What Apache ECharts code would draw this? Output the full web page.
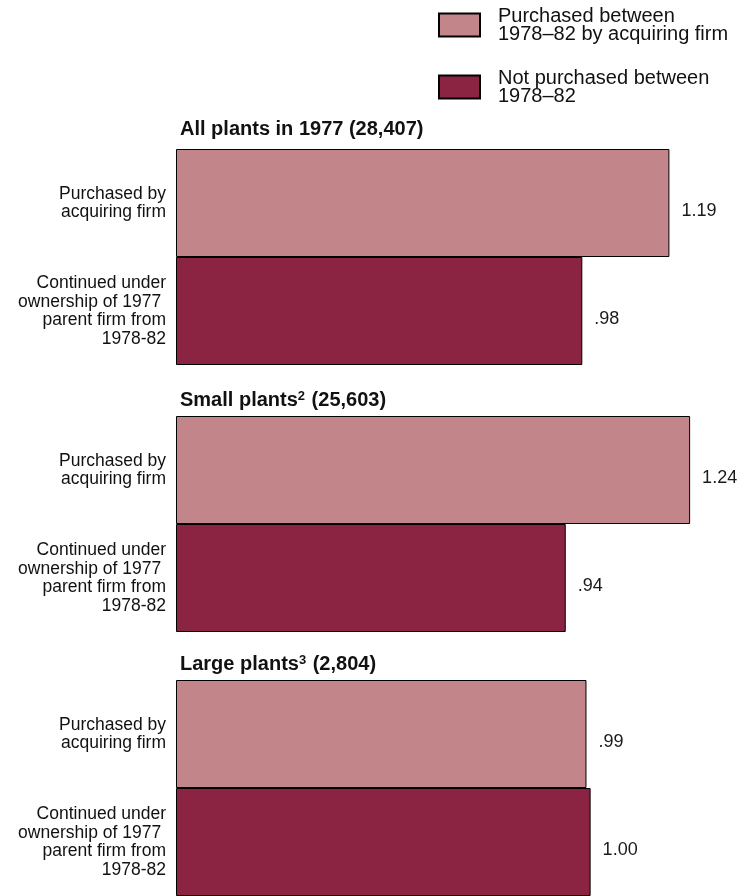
<!DOCTYPE html>
<html>
<head>
<meta charset="utf-8">
<script src="https://cdn.jsdelivr.net/npm/echarts@6/dist/echarts.min.js"></script>
<style>
  html, body { margin: 0; padding: 0; background: #fff; }
  #chart { width: 738px; height: 896px; }
</style>
</head>
<body>
<div id="chart"></div>
<script>
const groupTitles = ['All plants in 1977 (28,407)', 'Small plants{sup|2} (25,603)', 'Large plants{sup|3} (2,804)'];
const categories = ['Purchased by\nacquiring firm', 'Continued under\nownership of 1977 \nparent firm from\n1978-82'];
const seriesNames = ['Purchased between\n1978\u201382 by acquiring firm', 'Not purchased between\n1978\u201382'];
const purchased = [1.19, 1.24, 0.99];
const continued = [0.98, 0.94, 1.00];

const colors = ['#c1858a', '#8b2443'];
const font = '"Liberation Sans", Arial, sans-serif';
const gridTops = [149, 416, 680];
const titleTops = [119, 390, 654];

// .98 style: drop leading zero
const fmt = v => v.toFixed(2).replace(/^0/, '');

const titles = groupTitles.map((t, i) => ({
  text: t,
  left: 180,
  top: titleTops[i],
  padding: 0,
  textStyle: {
    fontFamily: font, fontSize: 20, fontWeight: 'bold', color: '#111', lineHeight: 20,
    rich: {
      sup: { fontFamily: font, fontSize: 13, fontWeight: 'bold', color: '#111', verticalAlign: 'top', lineHeight: 12, padding: [0, 1, 8, 0] }
    }
  }
}));

const grids = gridTops.map(t => ({ left: 176, top: t, width: 539, height: 216 }));
const xAxes = gridTops.map((t, i) => ({ type: 'value', gridIndex: i, min: 0, max: 1.3, show: false }));
const yAxes = gridTops.map((t, i) => ({
  type: 'category', gridIndex: i, inverse: true, data: categories,
  axisLine: { show: false }, axisTick: { show: false },
  axisLabel: { margin: 10, fontFamily: font, fontSize: 17.5, lineHeight: 18.5, color: '#111' }
}));

const series = [];
gridTops.forEach((t, i) => {
  [purchased[i], continued[i]].forEach((v, k) => {
    series.push({
      name: seriesNames[k],
      type: 'bar',
      stack: 'g' + i,
      xAxisIndex: i,
      yAxisIndex: i,
      barCategoryGap: '0%',
      data: k === 0 ? [v, '-'] : ['-', v],
      itemStyle: { color: colors[k], borderColor: '#000', borderWidth: 1 },
      label: {
        show: true, position: 'right', distance: 12, offset: [0, 8],
        fontFamily: font, fontSize: 18, color: '#1a1a1a',
        formatter: p => fmt(p.value)
      },
      emphasis: { disabled: true }
    });
  });
});

const chart = echarts.init(document.getElementById('chart'));
chart.setOption({
  animation: false,
  color: colors,
  title: titles,
  legend: {
    orient: 'vertical', left: 438, top: 6, padding: 0,
    itemWidth: 41, itemHeight: 23, itemGap: 24,
    icon: 'rect',
    selectedMode: false,
    data: seriesNames,
    textStyle: { fontFamily: font, fontSize: 20, lineHeight: 18, color: '#111', padding: [0, 0, 0, 13] }
  },
  grid: grids,
  xAxis: xAxes,
  yAxis: yAxes,
  series: series
});
</script>
</body>
</html>
